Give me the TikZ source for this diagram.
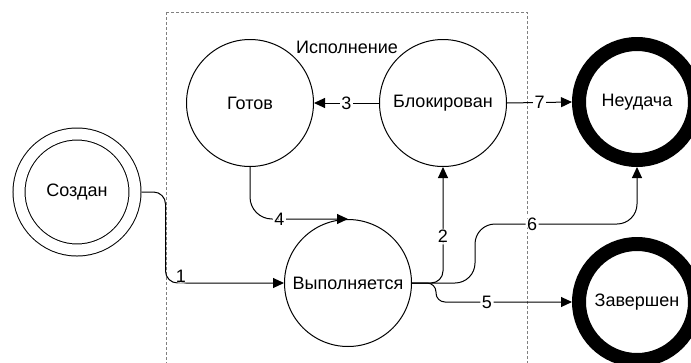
\documentclass[tikz,border=0pt]{standalone}
\usepackage{fontspec}
\setmainfont{Liberation Sans}
\usetikzlibrary{arrows.meta}

\tikzset{
  proc/.style={circle, draw, line width=1pt, minimum size=127pt, inner sep=0pt},
  startproc/.style={circle, draw, double, double distance=11pt, line width=1pt,
    minimum size=116pt, inner sep=0pt, outer sep=6.5pt},
  endproc/.style={circle, draw, line width=14pt, minimum size=116pt, inner sep=0pt},
  conn/.style={line width=1pt, ->},
  lbl/.style={fill=white, inner sep=1.5pt},
}

\begin{document}
\begin{tikzpicture}[x=1pt, y=-1pt, >={Triangle[length=11pt,width=10pt]},
  font=\fontsize{18}{21}\selectfont]
\clip (0,0) rectangle (691,362);
% group box
\draw[gray, line width=1pt, dash pattern=on 3pt off 2pt] (166,12) rectangle (527,380);
\node (grp) at (347,47) {Исполнение};
% states
\node[startproc] (sozdan) at (77,192) {Создан};
\node[proc] (gotov) at (250,103) {Готов};
\node[proc] (blok) at (443,103) {Блокирован};
\node[proc] (vyp) at (348,283) {Выполняется};
\node[endproc] (neud) at (637,102) {Неудача};
\node[endproc] (zav) at (637,302) {Завершен};
\coordinate (c6) at (475,224);
\coordinate (c5) at (436,302);
% transitions
\draw[conn, rounded corners=12] (sozdan.east) -- ++(24,0) |- (vyp.west)
  node[lbl, pos=0.565, yshift=7pt] {1};
\draw[conn, rounded corners=12] (vyp.east) -| (blok.south) node[lbl, pos=0.7] {2};
\draw[conn] (blok.west) -- (gotov.east) node[lbl, midway] {3};
\draw[conn, rounded corners=22] (gotov.south) |- (vyp.north) node[lbl, pos=0.65] {4};
\draw[conn, rounded corners=9] (vyp.east) -| (c5) -- (zav.west) node[lbl, pos=0.375] {5};
\draw[conn, rounded corners=20] (vyp.east) -| (c6) -| (neud.south) node[lbl, pos=0.176] {6};
\draw[conn] (blok.east) -- (neud.west) node[lbl, midway] {7};
\end{tikzpicture}
\end{document}
